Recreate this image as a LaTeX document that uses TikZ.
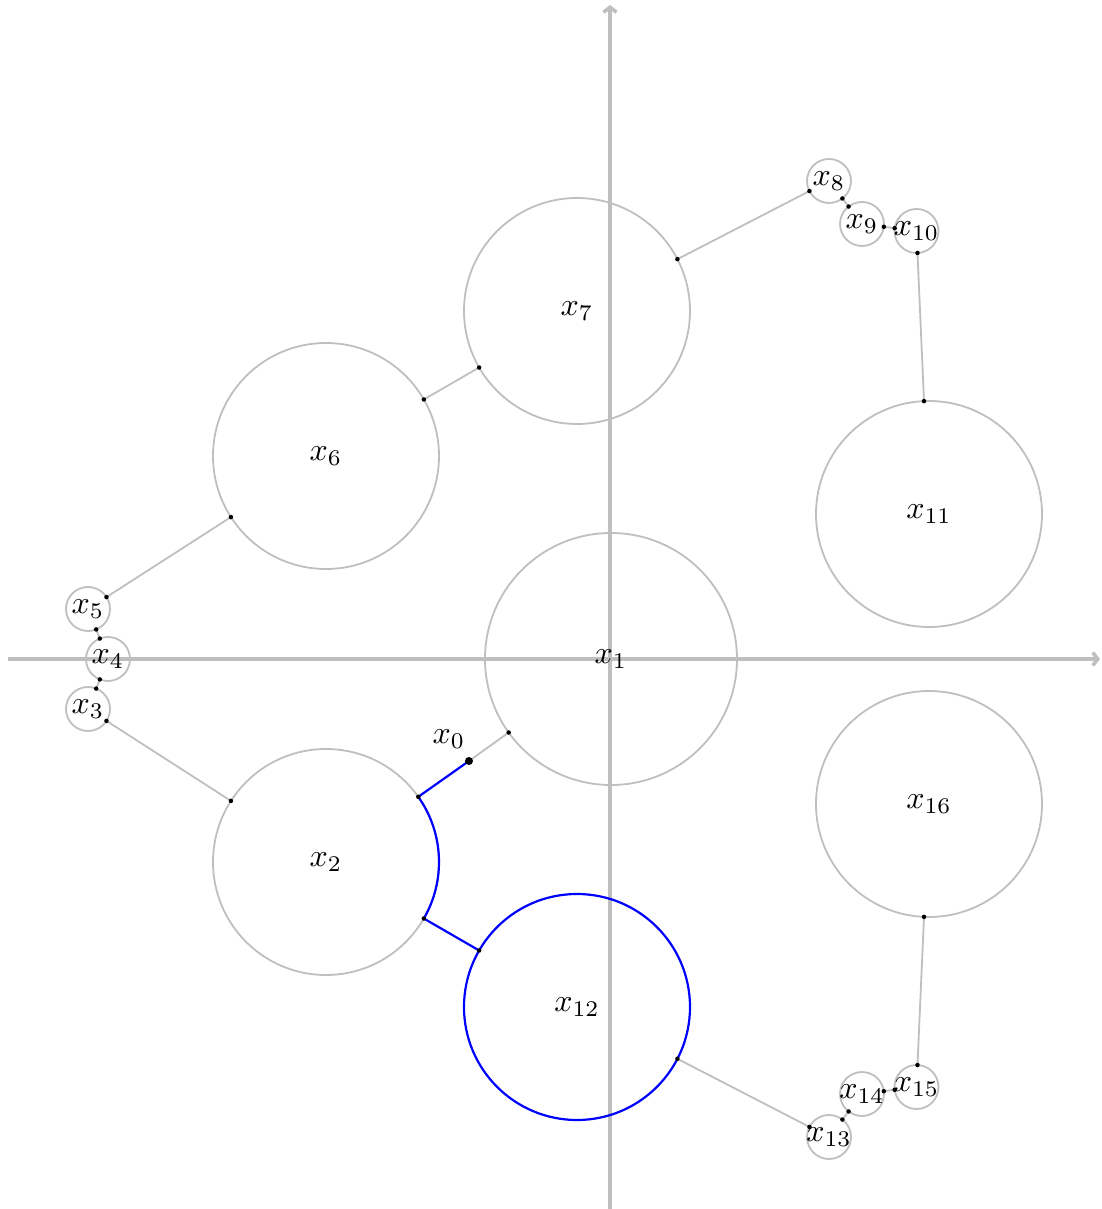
\documentclass[tikz,border=0pt]{standalone}
\usetikzlibrary{arrows.meta,calc}
\begin{document}
\begin{tikzpicture}[x=1pt,y=1pt,
  ball/.style={circle, draw=lightgray, line width=1.8pt, inner sep=0pt, outer sep=0pt, minimum size=#1},
  lbl/.style={scale=3.2, inner sep=0pt},
  link/.style={draw=lightgray, line width=1.8pt},
  pathlink/.style={draw=blue, line width=2.2pt},
  dot/.style={circle, fill=black, inner sep=0pt, minimum size=4.5pt},
  bigdot/.style={circle, fill=black, inner sep=0pt, minimum size=8pt},
  axisline/.style={draw=lightgray, line width=3.6pt, -{Straight Barb[length=5pt,width=13pt]}}]
\useasboundingbox (-610,-550) rectangle (491,659);
% axes
\coordinate (xa) at (-602,0);
\coordinate (xb) at (490,0);
\coordinate (ya) at (0,-550);
\coordinate (yb) at (0,654);
\draw[axisline] (xa) -- (xb);
\draw[axisline] (ya) -- (yb);
% circles
\node[ball=252pt] (c1) at (1,0) {};
\node[ball=226pt] (c7) at (-33,348) {};
\node[ball=226pt] (c6) at (-284,203) {};
\node[ball=226pt] (c2) at (-284,-203) {};
\node[ball=226pt, draw=blue, line width=2.2pt] (c12) at (-33,-348) {};
\node[ball=226pt] (c11) at (319,145) {};
\node[ball=226pt] (c16) at (319,-145) {};
\node[ball=44pt] (c8) at (219,478) {};
\node[ball=44pt] (c9) at (252,435) {};
\node[ball=44pt] (c10) at (306.5,428) {};
\node[ball=44pt] (c13) at (219,-478) {};
\node[ball=44pt] (c14) at (252,-435) {};
\node[ball=44pt] (c15) at (306.5,-428) {};
\node[ball=44pt] (c5) at (-522,50) {};
\node[ball=44pt] (c4) at (-502,0) {};
\node[ball=44pt] (c3) at (-522,-50) {};
\coordinate (p0) at (-141,-102);
% gray links
\draw[link] (c1) -- node[dot,pos=0]{} (p0);
\draw[link] (c7) -- node[dot,pos=0]{} node[dot,pos=1]{} (c6);
\draw[link] (c6) -- node[dot,pos=0]{} node[dot,pos=1]{} (c5);
\draw[link] (c5) -- node[dot,pos=0]{} node[dot,pos=1]{} (c4);
\draw[link] (c4) -- node[dot,pos=0]{} node[dot,pos=1]{} (c3);
\draw[link] (c3) -- node[dot,pos=0]{} node[dot,pos=1]{} (c2);
\draw[link] (c7) -- node[dot,pos=0]{} node[dot,pos=1]{} (c8);
\draw[link] (c8) -- node[dot,pos=0]{} node[dot,pos=1]{} (c9);
\draw[link] (c9) -- node[dot,pos=0]{} node[dot,pos=1]{} (c10);
\draw[link] (c10) -- node[dot,pos=0]{} node[dot,pos=1]{} (c11);
\draw[link] (c12) -- node[dot,pos=0]{} node[dot,pos=1]{} (c13);
\draw[link] (c13) -- node[dot,pos=0]{} node[dot,pos=1]{} (c14);
\draw[link] (c14) -- node[dot,pos=0]{} node[dot,pos=1]{} (c15);
\draw[link] (c15) -- node[dot,pos=0]{} node[dot,pos=1]{} (c16);
% blue path
\draw[pathlink] let \p1=($(p0)-(c2)$), \p2=($(c12)-(c2)$),
  \n1={atan2(\y1,\x1)}, \n2={atan2(\y2,\x2)} in
  ($(c2)!113pt!(p0)$) arc[start angle=\n1, end angle=\n2, radius=113pt];
\draw[pathlink] (p0) -- node[dot,pos=1]{} (c2);
\draw[pathlink] (c2) -- node[dot,pos=0]{} node[dot,pos=1]{} (c12);
\node[bigdot] (d0) at (p0) {};
% labels
\node[lbl] (l0) at (-161,-80) {$x_0$};
\node[lbl] (l1) at (1,0) {$x_1$};
\node[lbl] (l2) at (c2) {$x_2$};
\node[lbl] (l3) at (c3) {$x_3$};
\node[lbl] (l4) at (c4) {$x_4$};
\node[lbl] (l5) at (c5) {$x_5$};
\node[lbl] (l6) at (c6) {$x_6$};
\node[lbl] (l7) at (c7) {$x_7$};
\node[lbl] (l8) at (c8) {$x_8$};
\node[lbl] (l9) at (c9) {$x_9$};
\node[lbl] (l10) at (c10) {$x_{10}$};
\node[lbl] (l11) at (c11) {$x_{11}$};
\node[lbl] (l12) at (c12) {$x_{12}$};
\node[lbl] (l13) at (c13) {$x_{13}$};
\node[lbl] (l14) at (c14) {$x_{14}$};
\node[lbl] (l15) at (c15) {$x_{15}$};
\node[lbl] (l16) at (c16) {$x_{16}$};
\end{tikzpicture}
\end{document}
